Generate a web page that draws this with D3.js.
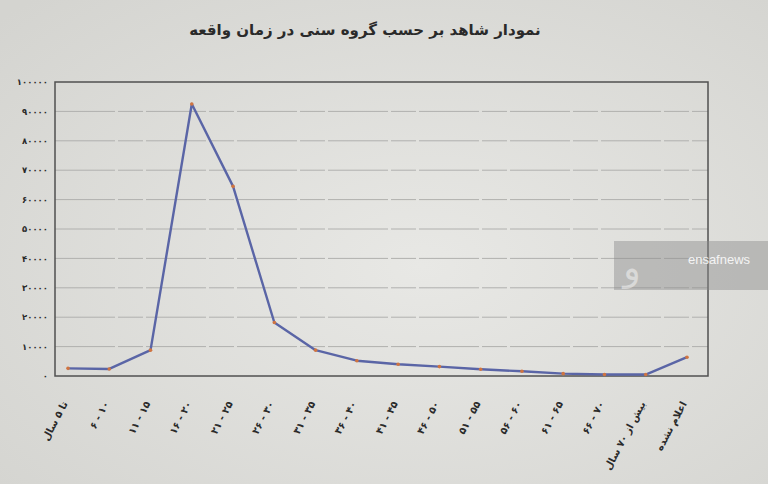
<!DOCTYPE html>
<html>
<head>
<meta charset="utf-8">
<script src="https://cdn.jsdelivr.net/npm/d3@7"></script>
<style>
  body { margin: 0; background: #d8d8d4; }
  svg { display: block; }
</style>
</head>
<body>
<div id="chart"></div>
<script>
// گروه های سنی
const categories = ["تا ۵ سال", "۶ - ۱۰", "۱۱ - ۱۵", "۱۶ - ۲۰", "۲۱ - ۲۵", "۲۶ - ۳۰", "۳۱ - ۳۵", "۳۶ - ۴۰",
  "۴۱ - ۴۵", "۴۶ - ۵۰", "۵۱ - ۵۵", "۵۶ - ۶۰", "۶۱ - ۶۵", "۶۶ - ۷۰", "بیش از ۷۰ سال", "اعلام نشده"];
const values = [2600, 2400, 8800, 92500, 64500, 18200, 8800, 5200,
  4000, 3200, 2300, 1600, 800, 500, 500, 6400];
const yTicks = [0, 10000, 20000, 30000, 40000, 50000, 60000, 70000, 80000, 90000, 100000];
const title = "نمودار شاهد بر حسب گروه سنی در زمان واقعه";

const faDigits = "۰۱۲۳۴۵۶۷۸۹";
const toFa = s => String(s).replace(/[0-9]/g, c => faDigits[+c]);

const width = 768, height = 484;
const margin = { top: 82, right: 60, bottom: 108, left: 55 };
const fontFa = "'DejaVu Sans', sans-serif";

const svg = d3.select("#chart").append("svg")
  .attr("width", width)
  .attr("height", height);

// کاغذ
const defs = svg.append("defs");
const grad = defs.append("radialGradient").attr("id", "paper")
  .attr("cx", "55%").attr("cy", "55%").attr("r", "75%");
grad.append("stop").attr("offset", "0%").attr("stop-color", "#e8e8e5");
grad.append("stop").attr("offset", "100%").attr("stop-color", "#d4d4d0");
svg.append("rect").attr("width", width).attr("height", height).attr("fill", "url(#paper)");

const x = d3.scalePoint()
  .domain(categories)
  .range([68, 687]);

const y = d3.scaleLinear()
  .domain([0, 100000])
  .range([height - margin.bottom, margin.top]);

// خطوط افقی
svg.append("g")
  .selectAll("line")
  .data(yTicks.filter(d => d > 0 && d < 100000))
  .join("line")
  .attr("x1", margin.left)
  .attr("x2", width - margin.right)
  .attr("y1", d => y(d))
  .attr("y2", d => y(d))
  .attr("stroke", "#b0b0ae")
  .attr("stroke-width", 1)
  .attr("stroke-dasharray", "60,3,25,3");

// قاب
svg.append("rect")
  .attr("x", margin.left)
  .attr("y", margin.top)
  .attr("width", width - margin.left - margin.right)
  .attr("height", height - margin.top - margin.bottom)
  .attr("fill", "none")
  .attr("stroke", "#505050")
  .attr("stroke-width", 1.5);

// محور Y
const yAxis = svg.append("g")
  .attr("transform", `translate(${margin.left - 4},0)`)
  .call(d3.axisLeft(y).tickValues(yTicks).tickSize(0).tickFormat(d => toFa(d)));
yAxis.select(".domain").remove();
yAxis.selectAll("text")
  .style("font-family", fontFa)
  .style("font-size", "8.5px")
  .style("font-weight", "bold")
  .style("fill", "#2a2a2a");

// برچسب های X
svg.append("g")
  .selectAll("text")
  .data(categories)
  .join("text")
  .attr("transform", d => `translate(${x(d) - 3},${402}) rotate(-62)`)
  .attr("text-anchor", "end")
  .attr("dy", "0.35em")
  .text(d => d)
  .style("font-family", fontFa)
  .style("font-size", "10px")
  .style("font-weight", "bold")
  .style("fill", "#2a2a2a");

// خط
const line = d3.line()
  .x((d, i) => x(categories[i]))
  .y(d => y(d));

svg.append("path")
  .datum(values)
  .attr("d", line)
  .attr("fill", "none")
  .attr("stroke", "#5a65a6")
  .attr("stroke-width", 2.4)
  .attr("stroke-linejoin", "round");

svg.append("g")
  .selectAll("circle")
  .data(values)
  .join("circle")
  .attr("cx", (d, i) => x(categories[i]))
  .attr("cy", d => y(d))
  .attr("r", 1.8)
  .attr("fill", "#d07440");

// عنوان
svg.append("text")
  .attr("x", 365)
  .attr("y", 35)
  .attr("text-anchor", "middle")
  .text(title)
  .style("font-family", fontFa)
  .style("font-size", "15px")
  .style("font-weight", "bold")
  .style("fill", "#2a2a2a");

// واترمارک
svg.append("rect")
  .attr("x", 614).attr("y", 241)
  .attr("width", 154).attr("height", 49)
  .attr("fill", "#8c8c8c")
  .attr("opacity", 0.45);
svg.append("text")
  .attr("x", 632).attr("y", 280)
  .attr("text-anchor", "middle")
  .text("و")
  .style("font-family", fontFa)
  .style("font-size", "36px")
  .style("fill", "#ffffff")
  .style("opacity", 0.45);
svg.append("text")
  .attr("x", 719).attr("y", 264)
  .attr("text-anchor", "middle")
  .text("ensafnews")
  .style("font-family", "'Liberation Sans', Arial, sans-serif")
  .style("font-size", "13px")
  .style("fill", "#f4f4f4");
</script>
</body>
</html>
